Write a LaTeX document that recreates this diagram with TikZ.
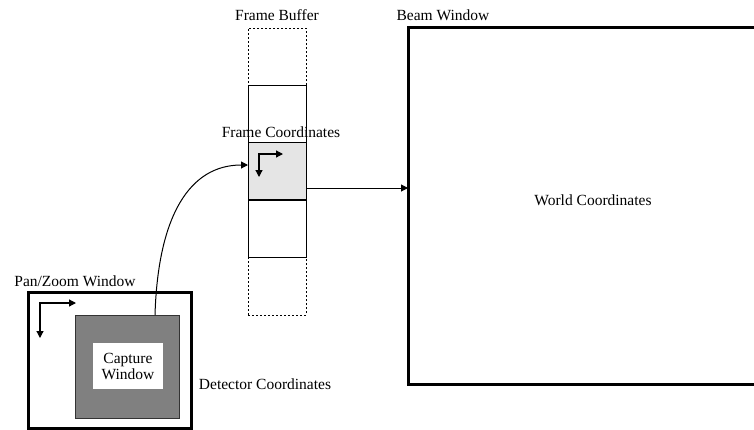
\documentclass[tikz,border=0pt]{standalone}
\usepackage{fontspec}
\setmainfont{Liberation Serif}
\usetikzlibrary{arrows.meta}
\begin{document}
\begin{tikzpicture}[x=1pt,y=-1pt,
  box/.style={draw,inner sep=0pt,outer sep=0pt,rectangle},
  lbl/.style={inner sep=0pt,font=\fontsize{15.5}{18}\selectfont},
  arr/.style={-{Triangle[length=7pt,width=7pt]},line width=1pt},
  dblarr/.style={{Triangle[length=7pt,width=7pt]}-{Triangle[length=7pt,width=7pt]},line width=1.2pt}]
\useasboundingbox (0,0) rectangle (754,429);
\clip (0,0) rectangle (754,429);
% Pan/Zoom window
\node[box,line width=3pt,minimum width=163pt,minimum height=136pt] (panzoom) at (109.5,360) {};
\node[box,fill=black!50,draw=black!80,line width=0.8pt,minimum width=104pt,minimum height=103pt] (capture) at (127,366.5) {};
\node[box,draw=none,fill=white,minimum width=70pt,minimum height=46pt,align=center,lbl] (capwin) at (128,366) {Capture\\[-2pt]Window};
\draw[dblarr] (76,303) -- (40,303) -- (40,338);
\node[lbl] (pzlbl) at (75,281) {Pan/Zoom Window};
\node[lbl] (detlbl) at (265,384) {Detector Coordinates};
% Frame buffer
\node[box,dashed,dash pattern=on 2pt off 2pt,line width=0.8pt,minimum width=58pt,minimum height=287pt] (fb) at (277,171.5) {};
\node[box,fill=white,line width=0.8pt,minimum width=58pt,minimum height=172pt] (fbsolid) at (277,171) {};
\node[box,fill=black!10,line width=0.8pt,minimum width=58pt,minimum height=58pt] (fcshade) at (277,171) {};
\draw[line width=1.6pt] (fcshade.south west) -- (fcshade.south east);
\draw[dblarr] (283,154) -- (259,154) -- (259,177);
\node[lbl] (fblbl) at (277,15) {Frame Buffer};
\node[lbl] (fclbl) at (281,132) {Frame Coordinates};
% Beam window
\node[box,line width=3pt,minimum width=362pt,minimum height=357pt] (beam) at (589,205.5) {};
\node[lbl] (bwlbl) at (443,15) {Beam Window};
\node[lbl] (wclbl) at (593,200) {World Coordinates};
% connectors
\draw[arr] ([xshift=28pt]capture.north) .. controls +(3,-100) and +(-58,0) .. ([yshift=6pt]fcshade.west);
\draw[arr] ([yshift=-17pt]fcshade.east) coordinate (a) -- (a -| beam.west);
\end{tikzpicture}
\end{document}
